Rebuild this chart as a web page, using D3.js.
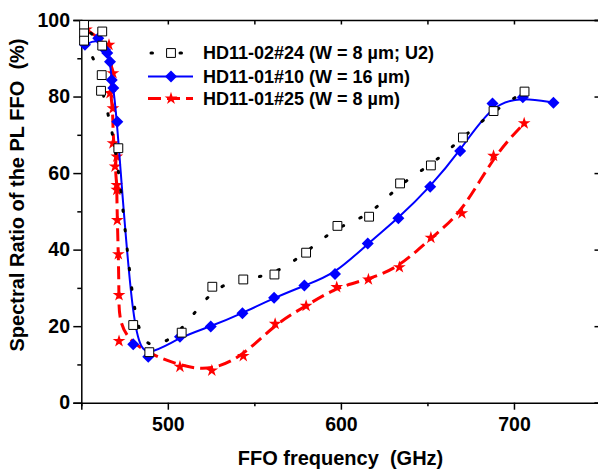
<!DOCTYPE html>
<html>
<head>
<meta charset="utf-8">
<script src="https://cdn.jsdelivr.net/npm/d3@7"></script>
<style>
  html, body { margin: 0; padding: 0; background: #fff; }
  svg { display: block; }
  text { font-family: "Liberation Sans", Arial, sans-serif; font-weight: bold; fill: #000; }
</style>
</head>
<body>
<svg id="chart" width="598" height="472"></svg>
<script>
// ---------------- data ----------------
const xMajorTicks = [500, 600, 700];
const xMinorTicks = [450, 550, 650, 750];
const yMajorTicks = [0, 20, 40, 60, 80, 100];
const yMinorTicks = [10, 30, 50, 70, 90];

const seriesNames = [
  "HD11-02#24 (W = 8 \u00B5m; U2)",
  "HD11-01#10 (W = 16 \u00B5m)",
  "HD11-01#25 (W = 8 \u00B5m)"
];

// HD11-02#24 (open squares, black dotted)
const sqFreq = [462.1, 462.1, 451.6, 451.6, 451.6, 461.8, 461.4, 471.4, 480.0, 489.3, 508.0, 525.7, 543.6, 561.6, 579.9, 598.0, 616.3, 634.2, 652.0, 670.5, 688.2, 706.1];
const sqVal  = [97.0, 93.3, 98.7, 96.5, 94.6, 85.6, 81.5, 66.5, 20.3, 13.2, 18.3, 30.3, 32.2, 33.5, 39.2, 46.2, 48.6, 57.3, 62.0, 69.3, 76.2, 81.3];

// HD11-01#10 (blue diamonds, solid)
const dmFreq = [452.1, 459.8, 463.7, 465.0, 466.6, 467.6, 468.5, 470.8, 480.0, 488.7, 507.0, 524.8, 543.1, 561.4, 578.9, 596.6, 615.5, 633.2, 651.6, 668.9, 687.6, 705.1, 722.8];
const dmVal  = [93.5, 95.2, 92.2, 91.4, 89.1, 84.3, 82.2, 73.4, 15.3, 12.0, 17.2, 19.9, 23.4, 27.4, 30.6, 33.6, 41.6, 48.2, 56.4, 65.8, 78.2, 79.8, 78.4];

// HD11-01#25 (red stars, dashed)
const stFreq = [453.0, 466.0, 468.3, 466.6, 468.3, 468.3, 470.5, 469.5, 470.5, 470.5, 470.8, 471.4, 471.8, 471.8, 507.0, 525.4, 543.6, 562.0, 579.9, 597.6, 615.9, 633.8, 652.0, 669.9, 688.2, 705.9];
const stVal  = [97.5, 93.5, 86.1, 80.9, 76.9, 67.8, 64.3, 61.7, 56.9, 55.6, 47.7, 38.8, 28.1, 16.1, 9.4, 8.4, 12.2, 20.6, 25.3, 30.2, 32.2, 35.4, 43.1, 49.5, 64.5, 73.0];

// ---------------- layout ----------------
const svg = d3.select("#chart");
const mLeft = 81.3, mRight = 600.5, mTop = 20, mBottom = 402.7;
const x = d3.scaleLinear().domain([450, 750]).range([mLeft, mRight]);
const y = d3.scaleLinear().domain([0, 100]).range([mBottom, mTop]);

const zip = (a, b) => a.map((v, i) => [v, b[i]]);
const sqData = zip(sqFreq, sqVal);
const dmData = zip(dmFreq, dmVal);
const stData = zip(stFreq, stVal);

const line = d3.line().x(d => x(d[0])).y(d => y(d[1])).curve(d3.curveBasis);

// ---------------- axes ----------------
const axisStyle = g => {
  g.select(".domain").attr("stroke", "#000").attr("stroke-width", 1.5);
  g.selectAll(".tick line").attr("stroke", "#000").attr("stroke-width", 1.5);
  g.selectAll(".tick text").style("font-size", "19.5px").style("font-weight", "bold")
    .style("font-family", '"Liberation Sans", Arial, sans-serif');
};

// bottom
svg.append("g").attr("transform", `translate(0,${mBottom})`)
  .call(d3.axisBottom(x).tickValues(xMajorTicks).tickSize(7).tickPadding(7.3).tickFormat(d3.format("d")))
  .call(axisStyle);
svg.append("g").attr("transform", `translate(0,${mBottom})`)
  .call(d3.axisBottom(x).tickValues(xMinorTicks).tickSize(3.5).tickFormat(""))
  .call(g => g.select(".domain").remove())
  .call(axisStyle);
// top
svg.append("g").attr("transform", `translate(0,${mTop})`)
  .call(d3.axisBottom(x).tickValues(xMajorTicks.concat(xMinorTicks)).tickSize(4.5).tickFormat(""))
  .call(axisStyle);
// left
svg.append("g").attr("transform", `translate(${mLeft},0)`)
  .call(d3.axisLeft(y).tickValues(yMajorTicks).tickSize(8).tickPadding(3.3).tickFormat(d3.format("d")))
  .call(axisStyle);
svg.append("g").attr("transform", `translate(${mLeft},0)`)
  .call(d3.axisLeft(y).tickValues(yMinorTicks).tickSize(4).tickFormat(""))
  .call(g => g.select(".domain").remove())
  .call(axisStyle);
// right
svg.append("g").attr("transform", `translate(${mRight},0)`)
  .call(d3.axisLeft(y).tickValues(yMajorTicks).tickSize(6).tickFormat(""))
  .call(axisStyle);
svg.append("g").attr("transform", `translate(${mRight},0)`)
  .call(d3.axisLeft(y).tickValues(yMinorTicks).tickSize(2.5).tickFormat(""))
  .call(g => g.select(".domain").remove())
  .call(axisStyle);

// titles
svg.append("text").attr("x", 340.5).attr("y", 465).attr("text-anchor", "middle")
  .style("font-size", "20px").style("white-space", "pre").text("FFO frequency  (GHz)");
svg.append("text").attr("transform", "translate(24,195) rotate(-90)").attr("text-anchor", "middle")
  .style("font-size", "20px").style("white-space", "pre").text("Spectral Ratio of the PL FFO  (%)");

// ---------------- series ----------------
const starSym = d3.symbol().type(d3.symbolStar).size(50);
const diamondSym = d3.symbol().type(d3.symbolSquare).size(72);
const squareSym = d3.symbol().type(d3.symbolSquare).size(78);

const plot = svg.append("g");

// red
plot.append("path").datum(stData).attr("d", line)
  .attr("fill", "none").attr("stroke", "#ff0000").attr("stroke-width", 3).attr("stroke-dasharray", "13,6");
plot.append("g").selectAll("path").data(stData).join("path")
  .attr("d", starSym).attr("transform", d => `translate(${x(d[0])},${y(d[1])})`)
  .attr("fill", "#ff0000");

// blue
plot.append("path").datum(dmData).attr("d", line)
  .attr("fill", "none").attr("stroke", "#0000ff").attr("stroke-width", 2);
plot.append("g").selectAll("path").data(dmData).join("path")
  .attr("d", diamondSym).attr("transform", d => `translate(${x(d[0])},${y(d[1])}) rotate(45)`)
  .attr("fill", "#0000ff");

// black
plot.append("path").datum(sqData).attr("d", line)
  .attr("fill", "none").attr("stroke", "#000").attr("stroke-width", 3)
  .attr("stroke-dasharray", "1.5,18").attr("stroke-linecap", "round");
plot.append("g").selectAll("path").data(sqData).join("path")
  .attr("d", squareSym).attr("transform", d => `translate(${x(d[0])},${y(d[1])})`)
  .attr("fill", "#fff").attr("stroke", "#000").attr("stroke-width", 1);

// ---------------- legend ----------------
const legendRows = [
  {name: seriesNames[0], y: 53},
  {name: seriesNames[1], y: 76.5},
  {name: seriesNames[2], y: 98.5}
];
const lg = svg.append("g");
const lx0 = 148, lx1 = 193, lxm = 171;
// row 1
lg.append("line").attr("x1", lx0 + 3).attr("x2", lx1 - 10).attr("y1", legendRows[0].y).attr("y2", legendRows[0].y)
  .attr("stroke", "#000").attr("stroke-width", 3).attr("stroke-dasharray", "1.5,27.5").attr("stroke-linecap", "round");
lg.append("path").attr("d", squareSym).attr("transform", `translate(${lxm},${legendRows[0].y})`)
  .attr("fill", "#fff").attr("stroke", "#000").attr("stroke-width", 1);
// row 2
lg.append("line").attr("x1", lx0).attr("x2", lx1).attr("y1", legendRows[1].y).attr("y2", legendRows[1].y)
  .attr("stroke", "#0000ff").attr("stroke-width", 2);
lg.append("path").attr("d", diamondSym).attr("transform", `translate(${lxm},${legendRows[1].y}) rotate(45)`)
  .attr("fill", "#0000ff");
// row 3
lg.append("line").attr("x1", lx0).attr("x2", lx1).attr("y1", legendRows[2].y).attr("y2", legendRows[2].y)
  .attr("stroke", "#ff0000").attr("stroke-width", 3).attr("stroke-dasharray", "13,6");
lg.append("path").attr("d", starSym).attr("transform", `translate(${lxm},${legendRows[2].y})`)
  .attr("fill", "#ff0000");
lg.selectAll("text.lt").data(legendRows).join("text").attr("class", "lt")
  .attr("x", 203).attr("y", d => d.y + 6.4)
  .style("font-size", "18px").text(d => d.name);
</script>
</body>
</html>
